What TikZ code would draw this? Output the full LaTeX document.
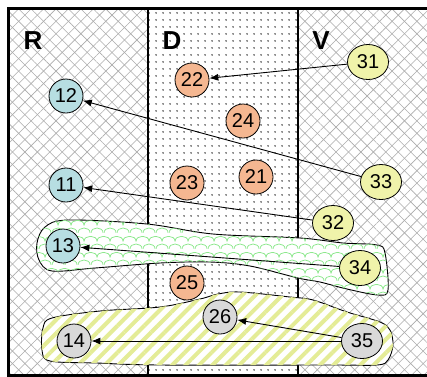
\documentclass[tikz,border=0pt]{standalone}
\usepackage{fontspec}
\setmainfont{Liberation Sans}
\usetikzlibrary{arrows.meta,patterns.meta,shapes.geometric}
\definecolor{cblue}{RGB}{183,222,226}
\definecolor{corange}{RGB}{245,183,145}
\definecolor{cyellow}{RGB}{240,243,170}
\definecolor{cgray}{RGB}{217,217,217}
\definecolor{cstripe}{RGB}{228,236,150}
\definecolor{cscale}{RGB}{140,232,140}
\tikzdeclarepattern{
  name=scales,
  type=uncolored,
  bottom left={(0pt,0pt)},
  top right={(13pt,16pt)},
  tile size={(13pt,16pt)},
  code={
    \draw[line width=0.8pt] (0pt,0pt) .. controls (0pt,7pt) and (13pt,7pt) .. (13pt,0pt);
    \draw[line width=0.8pt] (-6.5pt,8pt) .. controls (-6.5pt,15pt) and (6.5pt,15pt) .. (6.5pt,8pt);
    \draw[line width=0.8pt] (6.5pt,8pt) .. controls (6.5pt,15pt) and (19.5pt,15pt) .. (19.5pt,8pt);
  }
}
\tikzset{
  num/.style={draw=black,line width=0.8pt,circle,minimum size=34pt,inner sep=0pt,
    font=\fontsize{20}{20}\selectfont},
  oval/.style={num,ellipse,minimum width=41pt,minimum height=35pt},
  colhead/.style={font=\fontsize{26}{26}\selectfont\bfseries,inner sep=0pt},
  link/.style={line width=0.9pt,-{Latex[length=9pt,width=7pt]}},
  blob/.style={draw=black,line width=0.9pt,fill=white},
}
\begin{document}
\begin{tikzpicture}[x=1pt,y=-1pt]
\useasboundingbox (0,0) rectangle (427,376);
% column backgrounds
\fill[white] (8,8) rectangle (427,376);
\fill[pattern={Lines[angle=45,distance=8.8pt,line width=0.6pt]},pattern color=gray!65] (8,8) rectangle (148,376);
\fill[pattern={Lines[angle=-45,distance=8.8pt,line width=0.6pt]},pattern color=gray!65] (8,8) rectangle (148,376);
\fill[pattern={Lines[angle=45,distance=8.8pt,line width=0.6pt]},pattern color=gray!65] (298,8) rectangle (427,376);
\fill[pattern={Lines[angle=-45,distance=8.8pt,line width=0.6pt]},pattern color=gray!65] (298,8) rectangle (427,376);
\fill[pattern={Dots[distance=6.5pt,radius=0.85pt]},pattern color=black!85] (148,8) rectangle (298,376);
% dividers and frame
\draw[line width=2.5pt] (148,8) -- (148,376);
\draw[line width=2.5pt] (298,8) -- (298,376);
\draw[line width=3pt] (428,8) -- (8,8) -- (8,375) -- (428,375);
% headers
\node[colhead] (hR) at (33,41) {R};
\node[colhead] (hD) at (172,41) {D};
\node[colhead] (hV) at (321,41) {V};
% green blob
\draw[blob] plot[smooth cycle,tension=0.55] coordinates {(37,243) (45,227) (68,220) (147,224) (213,234) (300,238) (343,243) (377,245) (385,253) (388,290) (378,295) (347,289) (320,282) (298,278) (250,266) (210,262) (160,263) (95,268) (52,271) (39,260)};
\fill[pattern=scales,pattern color=cscale] plot[smooth cycle,tension=0.55] coordinates {(37,243) (45,227) (68,220) (147,224) (213,234) (300,238) (343,243) (377,245) (385,253) (388,290) (378,295) (347,289) (320,282) (298,278) (250,266) (210,262) (160,263) (95,268) (52,271) (39,260)};
% yellow blob
\draw[blob] plot[smooth cycle,tension=0.55] coordinates {(43,328) (52,318) (100,311) (160,307) (200,299) (218,294) (240,292) (290,297) (313,300) (347,312) (380,322) (390,330) (393,345) (388,360) (377,365) (330,365) (160,365) (97,363) (50,361) (42,350)};
\fill[pattern={Lines[angle=45,distance=9.5pt,line width=4pt]},pattern color=cstripe] plot[smooth cycle,tension=0.55] coordinates {(43,328) (52,318) (100,311) (160,307) (200,299) (218,294) (240,292) (290,297) (313,300) (347,312) (380,322) (390,330) (393,345) (388,360) (377,365) (330,365) (160,365) (97,363) (50,361) (42,350)};
% nodes
\node[num,fill=cblue] (n12) at (66,96) {12};
\node[num,fill=cblue] (n11) at (66,185) {11};
\node[num,fill=cblue] (n13) at (63,246) {13};
\node[num,fill=cgray] (n14) at (74,341) {14};
\node[num,fill=corange] (n22) at (192,80) {22};
\node[num,fill=corange] (n24) at (243,121) {24};
\node[num,fill=corange] (n21) at (256,177) {21};
\node[num,fill=corange] (n23) at (187,183) {23};
\node[num,fill=corange] (n25) at (187,283) {25};
\node[num,fill=cgray] (n26) at (220,317) {26};
\node[oval,fill=cyellow] (n31) at (368,62) {31};
\node[oval,fill=cyellow] (n33) at (381,182) {33};
\node[oval,fill=cyellow] (n32) at (333,223) {32};
\node[oval,fill=cyellow] (n34) at (360,268) {34};
\node[oval,fill=cgray] (n35) at (362,341) {35};
% connectors
\draw[link] (n31) -- (n22);
\draw[link] (n33) -- (n12);
\draw[link] (n32) -- (n11);
\draw[link] (n34) -- (n13);
\draw[link] (n35) -- (n26);
\draw[link] (n35) -- (n14);
\end{tikzpicture}
\end{document}
